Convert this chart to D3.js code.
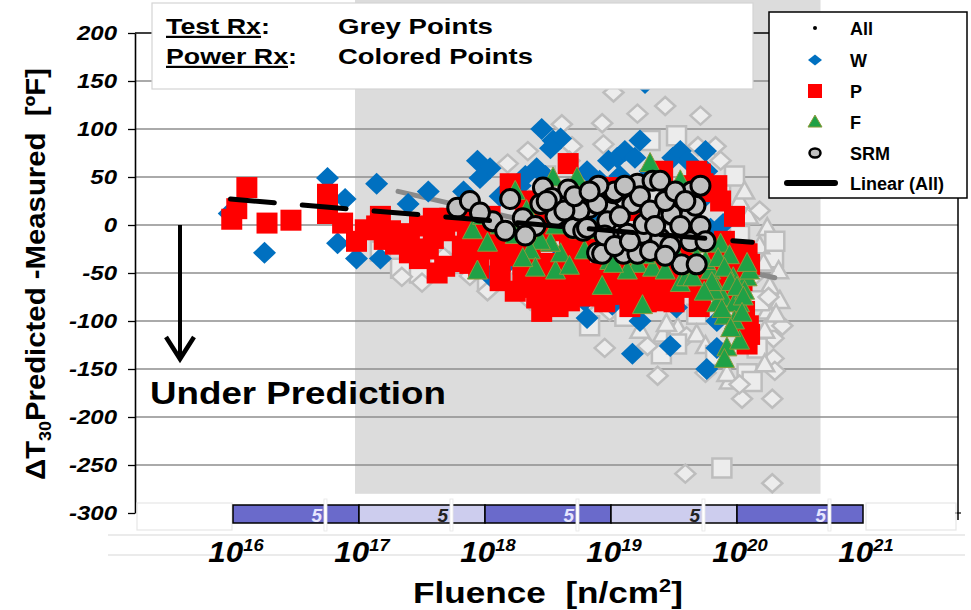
<!DOCTYPE html>
<html>
<head>
<meta charset="utf-8">
<script src="https://cdn.jsdelivr.net/npm/d3@7"></script>
<style>
  html, body { margin: 0; padding: 0; background: #fff; }
  svg { display: block; font-family: "Liberation Sans", Arial, sans-serif; }
  text { white-space: pre; }
</style>
</head>
<body>
<svg id="chart" width="971" height="610"></svg>
<script>
// Points are [log10 fluence (n/cm²), ΔT30 predicted - measured (°F)]

// Test reactor data (grey markers): shape d = diamond, s = square, t = triangle
const testRx = [
  [17.33,-45,'s'],[17.48,-50,'s'],[17.64,-38,'s'],[17.50,-60,'d'],[17.76,-40,'s'],[17.67,-33,'d'],[18.02,-58,'s'],[18.02,-69,'d'],[17.17,-27,'s'],[17.34,-54,'d'],
  [18.61,105,'d'],[18.93,106,'d'],[18.94,84,'d'],[18.34,77,'d'],[18.18,64,'d'],[18.69,82,'d'],[19.21,116,'d'],[19.71,114,'d'],[19.69,82,'d'],[19.83,82,'d'],
  [19.52,93,'s'],[19.02,138,'d'],[18.78,48,'s'],[18.48,51,'s'],[18.28,35,'d'],[20.02,25,'t'],[20.24,-3,'t'],[20.29,-34,'s'],[20.26,-64,'t'],[20.24,-90,'t'],
  [20.29,-118,'d'],[20.29,-139,'d'],[20.16,-128,'s'],[20.08,-155,'s'],[20.28,-181,'d'],[20.04,-181,'d'],[20.12,-163,'s'],[19.94,-163,'t'],[19.75,-154,'d'],[19.88,-253,'s'],
  [19.59,-259,'d'],[20.28,-269,'d'],[18.95,-128,'d'],[19.37,-157,'d'],[19.40,-134,'s'],[19.41,-114,'t'],[19.53,-107,'t'],[19.60,-116,'d'],[19.29,-126,'d'],[18.99,-90,'d'],
  [19.68,-93,'s'],[20.26,-103,'t'],[20.02,-11,'s'],[20.18,-22,'t'],[20.14,-53,'d'],[20.09,9,'t'],[20.30,-17,'s'],[20.33,-48,'t'],[19.87,35,'s'],[20.00,-48,'s'],
  [19.44,-103,'t'],[19.52,-124,'s'],[19.68,-114,'t'],[19.92,-155,'t'],[20.02,-166,'d'],[19.11,-95,'s'],[19.23,-110,'t'],[18.83,-79,'d'],[18.60,-69,'s'],[18.36,-79,'d'],
  [18.28,-58,'s'],[18.16,-43,'t'],[17.88,-53,'d'],[18.83,-105,'s'],[19.75,-126,'t'],[19.83,-136,'s'],[20.18,-79,'s'],[20.22,-110,'t'],[20.30,-152,'d'],[19.31,88,'s'],
  [19.43,124,'d'],[18.67,67,'d'],[19.87,67,'d'],[19.98,51,'s'],[20.06,35,'t'],[20.18,15,'d'],[20.34,-79,'t'],[20.36,-105,'d'],[20.21,-40,'t'],[20.25,-75,'d'],
  [20.31,-93,'t'],[20.22,-145,'t']
];

// Power reactor data by product form
const powerW = [
  [15.97,12],[16.25,-29],[16.75,49],[16.89,27],[16.83,-19],[16.98,-35],[17.17,-35],[17.14,43],[17.55,35],[17.39,22],
  [17.59,-15],[17.83,35],[17.94,67],[18.04,59],[17.96,49],[18.41,59],[18.45,100],[18.54,88],[18.60,90],[18.52,80],
  [18.81,56],[18.98,67],[19.05,70],[19.11,77],[19.19,70],[19.23,88],[19.27,148],[19.49,70],[19.55,77],[19.61,67],
  [19.76,56],[19.89,1],[18.17,-41],[18.81,-97],[18.91,-69],[19.17,-134],[19.47,-126],[19.52,-86],[19.84,-100],[19.84,-128],
  [19.76,-150],[18.83,9],[18.71,25],[18.91,46],[19.07,51],[19.31,56],[19.71,25],[19.80,35],[18.48,51],[18.28,41],
  [18.12,30],[18.04,-53],[19.23,-100],[19.33,-79],[19.01,-83],[19.79,-4],[19.75,77],[18.32,51],[17.88,-27],[18.60,-32],
  [18.79,-79]
];
const powerP = [
  [15.99,6],[16.03,17],[16.11,39],[16.27,2],[16.46,5],[16.75,32],[16.75,12],[16.87,2],[16.98,-17],[17.17,9],
  [17.14,-1],[17.25,-6],[17.40,-9],[17.40,-29],[17.59,7],[17.59,-14],[17.48,-1],[17.68,-6],[17.76,4],[17.82,-22],
  [17.88,-40],[17.92,-11],[17.29,-20],[17.48,-35],[17.68,-43],[17.83,-38],[17.72,7],[17.86,-9],[17.96,-24],[18.20,43],
  [18.66,64],[18.41,-76],[18.44,-55],[18.25,-24],[18.36,-38],[18.60,-45],[18.75,-38],[18.94,-45],[18.99,-72],[19.02,39],
  [18.32,25],[18.41,15],[18.28,-32],[18.48,-17],[18.71,-58],[18.83,-50],[18.91,-64],[19.07,-69],[19.19,-58],[19.31,-48],
  [19.43,-64],[19.55,-64],[19.71,-53],[19.83,-43],[19.94,-38],[20.06,-27],[19.41,56],[19.71,53],[19.84,41],[19.79,35],
  [20.08,-30],[20.10,-41],[20.05,-100],[20.08,-124],[20.10,-114],[20.00,-72],[19.05,-72],[19.21,-72],[19.13,-51],[18.97,-72],
  [19.17,-76],[19.73,43],[19.81,35],[19.68,56],[20.02,-79],[20.06,-90],[20.09,-105],[20.04,-58],[18.60,-6],[18.83,-17],
  [19.07,-22],[19.31,-17],[19.63,-6],[19.55,25],[19.23,15],[18.12,-11],[18.04,9],[18.12,-38],[18.44,-1],[18.67,-27],
  [18.52,-69],[18.67,-79],[18.83,-74],[19.39,-79],[19.71,-74],[19.90,-64],[19.90,-17],[19.98,9],[19.87,25],[18.95,25],
  [19.63,41],[18.12,-58],[18.24,-69],[17.88,9],[18.00,-6],
  [18.20,-20],[18.30,-50],[18.38,-65],[18.50,-40],[18.55,-58],[18.62,-70],[18.70,-50],[18.78,-65],[18.88,-55],[18.95,-80],
  [19.00,-58],[19.10,-60],[19.15,-85],[19.25,-65],[19.28,-80],[19.35,-60],[19.40,-70],[19.48,-55],[19.50,-80],[19.58,-50],
  [19.65,-65],[19.70,-85],[19.78,-55],[19.85,-30],[19.92,-50],[19.96,-70],[18.10,-25],[17.95,-45],[17.55,-25],[17.62,-50],
  [17.35,-15],[17.20,-15],[17.05,-5],[18.58,-85],[18.45,-90],[19.02,-30],[19.20,-35],[19.45,-35],[19.60,-30],[18.75,-10]
];
const powerF = [
  [17.94,-48],[18.02,-19],[17.90,-6],[18.56,-48],[18.60,-30],[18.52,-19],[18.44,-17],[18.93,-64],[18.33,15],[18.54,49],
  [18.73,49],[18.70,25],[18.99,-38],[19.25,-84],[19.31,64],[19.55,46],[19.87,-20],[19.79,-48],[19.84,-66],[19.97,-55],
  [20.08,-55],[19.89,-76],[20.02,-82],[19.92,-128],[20.02,-121],[19.90,-140],[19.21,-41],[19.13,-48],[19.33,-45],[19.55,-61],
  [19.60,-55],[19.71,-20],[19.68,-34],[19.02,-41],[19.39,-20],[19.49,-24],[19.84,-82],[19.98,-82],[18.12,-1],[18.24,-11],
  [18.36,-27],[18.79,-27],[18.87,-6],[19.07,-17],[19.27,-32],[19.43,-48],[19.63,-43],[19.75,-38],[19.94,-32],[19.90,-95],
  [19.98,-100],[20.06,-69],[20.10,-48],[19.82,-69],[18.67,-43],[18.91,-27],[19.15,-32],[18.56,-1],[18.75,-6],[18.48,20],
  [18.24,35],[17.98,9],
  [19.85,-35],[19.90,-45],[19.95,-60],[20.00,-65],[20.05,-75],[19.80,-60],[19.88,-88],[20.04,-92],[19.95,-108],[20.08,-40],
  [19.74,-70],[19.65,-55],[18.40,-45],[18.30,-35]
];
const srm = [
  [17.78,18],[17.88,25],[18.20,27],[18.06,4],[18.16,-6],[18.30,7],[18.46,39],[18.66,37],[18.44,22],[18.53,28],
  [18.56,9],[18.70,-3],[18.83,18],[18.89,-29],[18.99,15],[19.02,33],[18.78,-6],[18.49,25],[18.75,15],[18.81,-3],
  [18.89,22],[19.10,-30],[19.17,22],[19.21,43],[19.33,46],[19.25,-9],[19.13,-9],[18.97,4],[19.39,46],[19.64,35],
  [19.03,35],[19.48,11],[19.63,11],[19.26,1],[18.93,-30],[19.63,-17],[19.39,-14],[19.56,-41],[19.68,-41],[19.21,-30],
  [19.23,30],[19.31,15],[19.43,25],[19.51,35],[19.55,-1],[19.71,-1],[19.67,20],[19.07,9],[19.35,-1],[19.11,41],
  [18.95,-11],[18.63,15],[18.40,-1],[18.32,-11],[17.96,13],[18.71,30],[19.03,-22],[19.15,-17],[19.47,-22],[19.31,-27],
  [19.43,-32],[19.59,25],[19.71,41],[19.75,-17],[18.90,41],[18.83,35]
];

// Linear fits: [log10 fluence, ΔT] end points
const trendAll = [[15.98, 27], [20.12, -18]];
const trendTest = [[17.31, 35], [20.30, -55]];

const yTicks = [200, 150, 100, 50, 0, -50, -100, -150, -200, -250, -300];
const xDecades = [16, 17, 18, 19, 20, 21];
const decadeCounts = [5, 5, 5, 5, 5];
const shadedFluence = [9.3e16, 4.6e20];
const shadedBottom = -280;
const legendItems = ["All", "W", "P", "F", "SRM", "Linear (All)"];

// ---------------------------------------------------------------
const svg = d3.select("#chart");
const x = d3.scaleLog().domain([1e16, 1e21]).range([233, 863]);
const y = d3.scaleLinear().domain([-300, 200]).range([513, 33]);
const fx = lf => x(Math.pow(10, lf));

// stretch a text element horizontally about its anchor
function place(sel, px, py, opts = {}) {
  const w = sel.node().getBBox().width;
  const k = opts.width ? opts.width / w : (opts.scale || 1);
  sel.attr("transform", `translate(${px},${py}) rotate(${opts.rotate || 0}) scale(${k},1)`);
  return sel;
}

// marker shapes
const diamond = (hw, hh) => `M0,${-hh}L${hw},0L0,${hh}L${-hw},0Z`;
const square = h => `M${-h},${-h}H${h}V${h}H${-h}Z`;
const triangle = (w, h) => `M0,${-h * 0.58}L${w / 2},${h * 0.42}L${-w / 2},${h * 0.42}Z`;

// shaded fluence band
svg.append("rect")
  .attr("x", x(shadedFluence[0])).attr("y", 0)
  .attr("width", x(shadedFluence[1]) - x(shadedFluence[0]))
  .attr("height", y(shadedBottom))
  .attr("fill", "#dcdcdc");

// horizontal gridlines
svg.append("g").selectAll("line")
  .data(yTicks.filter(t => t > -300)).join("line")
  .attr("x1", 135).attr("x2", 958)
  .attr("y1", d => y(d)).attr("y2", d => y(d))
  .attr("stroke", d => d === 200 ? "#000" : "#8e8e8e")
  .attr("stroke-width", d => d === 200 ? 1.3 : 1.6);

// right frame line
svg.append("line").attr("x1", 958).attr("x2", 958).attr("y1", y(200)).attr("y2", y(-300) + 7)
  .attr("stroke", "#000").attr("stroke-width", 1.5);
svg.append("line").attr("x1", 955).attr("x2", 961).attr("y1", y(-300)).attr("y2", y(-300))
  .attr("stroke", "#000").attr("stroke-width", 1.2);

// left axis
const yAxis = svg.append("g").attr("transform", "translate(135,0)")
  .call(d3.axisLeft(y).tickValues(yTicks).tickSize(7).tickSizeOuter(0).tickFormat(""));
yAxis.select(".domain").attr("stroke", "#000").attr("stroke-width", 1.6);
yAxis.selectAll(".tick line").attr("stroke", "#000").attr("stroke-width", 1.3);

yTicks.forEach(t => {
  const tx = svg.append("text").attr("text-anchor", "end")
    .attr("font-size", 20).attr("font-weight", "bold").attr("font-style", "italic")
    .attr("fill", "#000").text(t);
  place(tx, 117, y(t) + 7, { scale: 1.2 });
});

// faint table cells under the fluence band
svg.append("g").selectAll("line").data([535, 555]).join("line")
  .attr("x1", 108).attr("x2", 965).attr("y1", d => d).attr("y2", d => d)
  .attr("stroke", "#e4e4e4").attr("stroke-width", 1.5);
svg.append("rect").attr("x", 137).attr("y", 503).attr("width", 95).attr("height", 27)
  .attr("fill", "none").attr("stroke", "#e6e6e6").attr("stroke-width", 1.2);
svg.append("rect").attr("x", 866).attr("y", 503).attr("width", 90).attr("height", 27)
  .attr("fill", "none").attr("stroke", "#e6e6e6").attr("stroke-width", 1.2);

// decade band
const band = svg.append("g");
decadeCounts.forEach((n, i) => {
  const x0 = x(Math.pow(10, 16 + i)), x1 = x(Math.pow(10, 17 + i));
  const dark = i % 2 === 0;
  band.append("rect").attr("x", x0).attr("y", 505).attr("width", x1 - x0).attr("height", 18)
    .attr("fill", dark ? "#6a6acb" : "#cdcdee").attr("stroke", "#000").attr("stroke-width", 1.5);
});
decadeCounts.forEach((n, i) => {
  const xc = fx(16 + i + 0.73);
  band.append("rect").attr("x", xc - 1).attr("y", 499).attr("width", 3).attr("height", 32)
    .attr("fill", "#ffffff").attr("stroke", "#e6e6e6").attr("stroke-width", 0.8);
  band.append("text").attr("x", xc - 3).attr("y", 522).attr("text-anchor", "end")
    .attr("font-size", 19).attr("font-weight", "bold").attr("font-style", "italic")
    .attr("fill", i % 2 === 0 ? "#e6e6ff" : "#222").text(n);
});

// x tick labels 10^n
xDecades.forEach(d => {
  const t = svg.append("text").attr("text-anchor", "middle")
    .attr("font-weight", "bold").attr("font-style", "italic").attr("fill", "#000");
  t.append("tspan").attr("font-size", 29).text("10");
  t.append("tspan").attr("font-size", 17).attr("dy", -11).text(d);
  place(t, x(Math.pow(10, d)) + 3, 562, { scale: 1.08 });
});

// test reactor points
const gTest = svg.append("g");
gTest.selectAll("path").data(testRx).join("path")
  .attr("transform", d => `translate(${fx(d[0])},${y(d[1])})`)
  .attr("d", d => d[2] === 'd' ? diamond(10, 9) : d[2] === 's' ? square(9.5) : triangle(19, 17))
  .attr("fill", "#ececec").attr("stroke", "#bdbdbd").attr("stroke-width", 2.5);

// linear fit of test data
svg.append("line")
  .attr("x1", fx(trendTest[0][0])).attr("y1", y(trendTest[0][1]))
  .attr("x2", fx(trendTest[1][0])).attr("y2", y(trendTest[1][1]))
  .attr("stroke", "#8a8a8a").attr("stroke-width", 5).attr("stroke-linecap", "round");

// power reactor points
svg.append("g").selectAll("path").data(powerW).join("path")
  .attr("transform", d => `translate(${fx(d[0])},${y(d[1])})`)
  .attr("d", diamond(11.5, 11)).attr("fill", "#0070c0");
svg.append("g").selectAll("path").data(powerP).join("path")
  .attr("transform", d => `translate(${fx(d[0])},${y(d[1])})`)
  .attr("d", square(10.5)).attr("fill", "#ff0000");
svg.append("g").selectAll("path").data(powerF).join("path")
  .attr("transform", d => `translate(${fx(d[0])},${y(d[1])})`)
  .attr("d", triangle(20, 19)).attr("fill", "#1fa146").attr("stroke", "#8c9a3c").attr("stroke-width", 1);
svg.append("g").selectAll("circle").data(srm).join("circle")
  .attr("cx", d => fx(d[0])).attr("cy", d => y(d[1])).attr("r", 9.5)
  .attr("fill", "#c0c0c0").attr("stroke", "#000").attr("stroke-width", 3);

// linear fit of all data
svg.append("line")
  .attr("x1", fx(trendAll[0][0])).attr("y1", y(trendAll[0][1]))
  .attr("x2", fx(trendAll[1][0])).attr("y2", y(trendAll[1][1]))
  .attr("stroke", "#000").attr("stroke-width", 5).attr("stroke-linecap", "round")
  .attr("stroke-dasharray", "44,28");

// under-prediction annotation
svg.append("line").attr("x1", 180).attr("x2", 180).attr("y1", y(0)).attr("y2", 358)
  .attr("stroke", "#000").attr("stroke-width", 4);
svg.append("path").attr("d", "M166,337L180,359L194,337")
  .attr("fill", "none").attr("stroke", "#000").attr("stroke-width", 4.5);
place(svg.append("text").attr("font-size", 32).attr("font-weight", "bold").attr("fill", "#000")
  .text("Under Prediction"), 150, 404, { width: 296 });

// info box
svg.append("rect").attr("x", 152).attr("y", 3).attr("width", 601).attr("height", 86)
  .attr("fill", "#fff").attr("stroke", "#d4d4d4").attr("stroke-width", 1.2);
function boxLabel(under, rest, px, py, w) {
  const t = svg.append("text").attr("font-size", 22).attr("font-weight", "bold").attr("fill", "#000");
  t.append("tspan").style("text-decoration", "underline").text(under);
  t.append("tspan").text(rest);
  place(t, px, py, { width: w });
}
boxLabel("Test Rx", ":", 166, 34, 104);
boxLabel("Power Rx", ":", 166, 64, 131);
place(svg.append("text").attr("font-size", 22).attr("font-weight", "bold").text("Grey Points"), 338, 34, { width: 155 });
place(svg.append("text").attr("font-size", 22).attr("font-weight", "bold").text("Colored Points"), 338, 64, { width: 195 });

// legend
const lg = svg.append("g");
lg.append("rect").attr("x", 769).attr("y", 12).attr("width", 198).attr("height", 186)
  .attr("fill", "#fff").attr("stroke", "#000").attr("stroke-width", 1.5);
const rowY = [28, 60, 91, 122, 153, 183];
const mx = 815;
lg.append("circle").attr("cx", mx).attr("cy", rowY[0]).attr("r", 2).attr("fill", "#000");
lg.append("path").attr("transform", `translate(${mx},${rowY[1]})`).attr("d", diamond(7, 5.5)).attr("fill", "#0070c0");
lg.append("path").attr("transform", `translate(${mx},${rowY[2]})`).attr("d", square(7)).attr("fill", "#ff0000");
lg.append("path").attr("transform", `translate(${mx},${rowY[3]})`).attr("d", triangle(14, 12))
  .attr("fill", "#1fa146").attr("stroke", "#8c9a3c").attr("stroke-width", 1);
lg.append("ellipse").attr("cx", mx).attr("cy", rowY[4]).attr("rx", 5.5).attr("ry", 4.5)
  .attr("fill", "#c0c0c0").attr("stroke", "#000").attr("stroke-width", 2.5);
lg.append("line").attr("x1", 787).attr("x2", 835).attr("y1", rowY[5]).attr("y2", rowY[5])
  .attr("stroke", "#000").attr("stroke-width", 6).attr("stroke-linecap", "round");
legendItems.forEach((name, i) => {
  lg.append("text").attr("x", 850).attr("y", rowY[i] + 6.5)
    .attr("font-size", 18).attr("font-weight", "bold").attr("fill", "#000").text(name);
});

// axis titles
const yt = svg.append("text").attr("text-anchor", "middle").attr("font-size", 28)
  .attr("font-weight", "bold").attr("fill", "#000");
yt.append("tspan").text("ΔT");
yt.append("tspan").attr("font-size", 17).attr("dy", 6).text("30");
yt.append("tspan").attr("dy", -6).text("Predicted -Measured  [ºF]");
place(yt, 45, 274, { rotate: -90, width: 412 });

const xt = svg.append("text").attr("text-anchor", "middle").attr("font-size", 29)
  .attr("font-weight", "bold").attr("fill", "#000");
xt.append("tspan").text("Fluence  [n/cm");
xt.append("tspan").attr("font-size", 18).attr("dy", -11).text("2");
xt.append("tspan").attr("dy", 11).text("]");
place(xt, 548, 603, { width: 270 });
</script>
</body>
</html>
